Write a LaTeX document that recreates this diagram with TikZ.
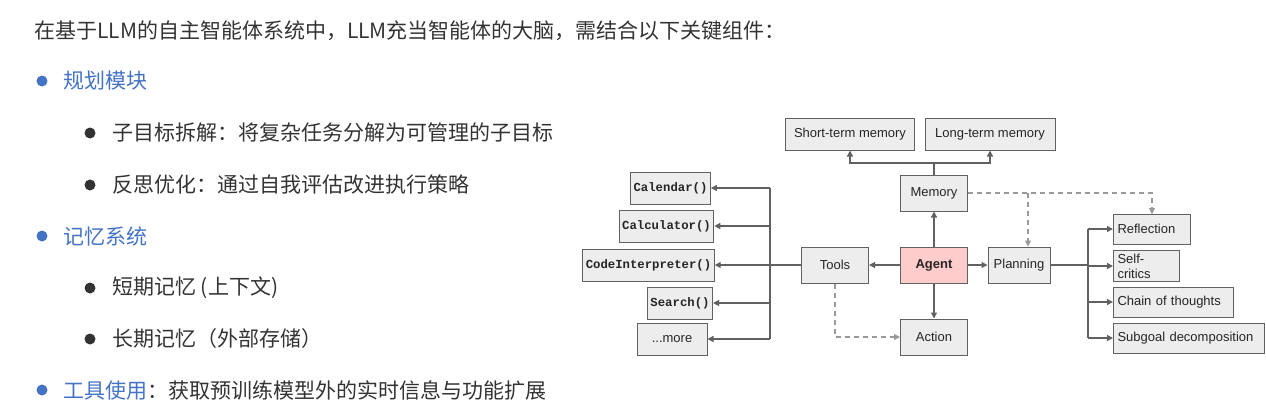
\documentclass[tikz,border=0pt]{standalone}
\usepackage{fontspec}
\setmainfont{Liberation Sans}
\newfontfamily\cjk{Noto Sans CJK SC}
\newfontfamily\mono{Liberation Mono}
\usetikzlibrary{arrows.meta}
\definecolor{bl}{HTML}{4472C4}
\definecolor{tx}{HTML}{333333}
\begin{document}
\begin{tikzpicture}[x=1pt,y=-1pt,
  box/.style={draw=black!62,fill=black!7,line width=1pt,minimum height=32pt,inner sep=3pt,font=\fontsize{13}{15}\selectfont,text=black!85},
  mb/.style={box,font=\mono\bfseries\fontsize{12.3}{14}\selectfont},
  rb/.style={box,minimum height=30pt,anchor=west,align=left,inner xsep=4pt},
  ln/.style={draw=black!62,line width=1.3pt},
  ar/.style={ln,-{Triangle[length=6pt,width=6pt]}},
  da/.style={draw=black!40,line width=1.1pt,dash pattern=on 5pt off 4pt,-{Triangle[length=6pt,width=6pt]}},
  t/.style={anchor=west,font=\cjk\fontsize{21}{22}\selectfont,text=tx,inner sep=0pt},
  dot/.style={circle,inner sep=0pt,minimum size=11pt}]
\useasboundingbox (0,0) rectangle (1266,416);
\node[t] (title) at (34,31) {在基于LLM的自主智能体系统中，LLM充当智能体的大脑，需结合以下关键组件：};
\node[dot,fill=bl] (b1) at (42,81) {}; \node[t,text=bl] (l1) at (63,81) {规划模块};
\node[dot,fill=tx] (b2) at (90,133) {}; \node[t] (l2) at (112,133) {子目标拆解：将复杂任务分解为可管理的子目标};
\node[dot,fill=tx] (b3) at (90,185) {}; \node[t] (l3) at (112,185) {反思优化：通过自我评估改进执行策略};
\node[dot,fill=bl] (b4) at (42,236) {}; \node[t,text=bl] (l4) at (63,236) {记忆系统};
\node[dot,fill=tx] (b5) at (90,288) {}; \node[t] (l5) at (112,288) {短期记忆 (上下文)};
\node[dot,fill=tx] (b6) at (90,339) {}; \node[t] (l6) at (112,339) {长期记忆（外部存储）};
\node[dot,fill=bl] (b7) at (42,390) {}; \node[t] (l7) at (63,390) {\textcolor{bl}{工具使用}：获取预训练模型外的实时信息与功能扩展};

\node[box,minimum width=129pt] (stm) at (850,134) {Short-term memory};
\node[box,minimum width=130pt] (ltm) at (990,134) {Long-term memory};
\node[box,minimum width=67pt,minimum height=36pt] (mem) at (934,193) {Memory};
\node[box,minimum width=67pt,minimum height=36pt,fill=red!20,font=\bfseries\fontsize{13}{15}\selectfont] (agent) at (934,265) {Agent};
\node[box,minimum width=67pt,minimum height=36pt] (tools) at (835,265) {Tools};
\node[box,minimum width=62pt,minimum height=36pt] (plan) at (1019,265) {Planning};
\node[box,minimum width=67pt,minimum height=36pt] (act) at (934,337) {Action};
\node[mb,minimum width=73pt] (cal) at (670.5,188) {Calendar()};
\node[mb,minimum width=81pt] (calc) at (666.5,226) {Calculator()};
\node[mb,minimum width=117pt] (code) at (648.5,265) {CodeInterpreter()};
\node[mb,minimum width=54pt] (search) at (680,303) {Search()};
\node[box,minimum width=70pt] (more) at (672,339) {...more};
\node[rb,text width=69pt] (refl) at (1113,229) {Reflection};
\node[rb,text width=58pt] (self) at (1113,266) {Self-critics};
\node[rb,text width=112pt] (cot) at (1113,302) {Chain of thoughts};
\node[rb,text width=143pt] (sub) at (1113,338) {Subgoal decomposition};

\coordinate (mj) at (934,163);
\draw[ln] (mem.north) -- (mj);
\draw[ar] (mj) -| (stm.south);
\draw[ar] (mj) -| (ltm.south);
\draw[ar] (agent) -- (mem);
\draw[ar] (agent) -- (act);
\draw[ar] (agent) -- (tools);
\draw[ar] (agent) -- (plan);
\coordinate (tj) at (770,265);
\draw[ln] (tools.west) -- (tj);
\draw[ln] (770,188) -- (770,339);
\foreach \n in {cal,calc,code,search,more} \draw[ar] (tj |- \n.east) -- (\n.east);
\coordinate (pj) at (1088,265);
\draw[ln] (plan.east) -- (pj);
\draw[ln] (1088,229) -- (1088,338);
\foreach \n in {refl,self,cot,sub} \draw[ar] (pj |- \n.west) -- (\n.west);
\draw[da] (mem.east) -| (1152,214);
\draw[da] (1028,193) -- (plan.north -| 1028,247);
\draw[da] (tools.south) |- (act.west);
\end{tikzpicture}
\end{document}
